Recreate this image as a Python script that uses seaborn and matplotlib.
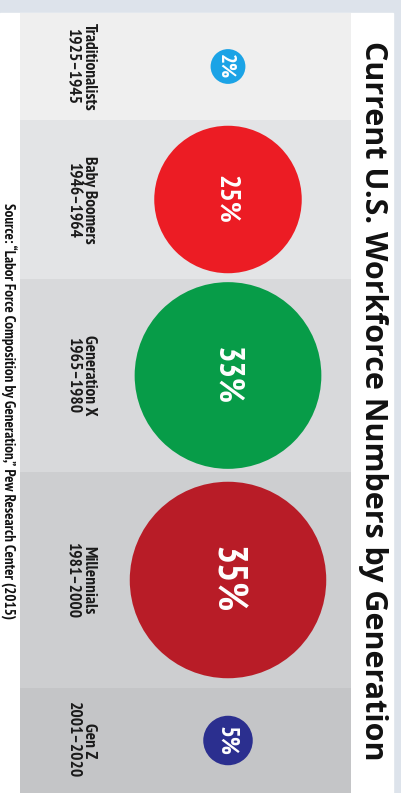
import numpy as np
import pandas as pd
import matplotlib
matplotlib.use("Agg")
import matplotlib.pyplot as plt
from matplotlib.patches import Rectangle
import seaborn as sns

# ---- data ----
GENERATIONS = ["Traditionalists", "Baby Boomers", "Generation X", "Millennials", "Gen Z"]
YEARS = ["1925–1945", "1946–1964", "1965–1980", "1981–2000", "2001–2020"]
SHARES = [2, 25, 33, 35, 5]
TITLE = "Current U.S. Workforce Numbers by Generation"
SOURCE = "Source: \u201cLabor Force Composition by Generation,\u201d Pew Research Center (2015)"

# ---- styles / layout ----
CIRCLE_COLORS = ["#1ba3e6", "#ec1c24", "#079c48", "#b81c27", "#2b2f8f"]
BAND_COLORS = ["#efefef", "#e3e4e6", "#d8d9db", "#cdced0", "#c4c5c7"]
PCT_SIZES = [15, 21, 25, 29, 18]
BAND_EDGES = [13, 120, 279, 472, 688, 793]
W, H = 401, 793
CIRCLE_X = 228
LABEL_FONT = ["PT Sans Narrow", "Archivo Narrow", "DejaVu Sans"]
TITLE_FONT = ["Open Sans", "DejaVu Sans"]

fig = plt.figure(figsize=(W / 100, H / 100), dpi=100)
fig.patch.set_facecolor("#dde3eb")
ax = fig.add_axes([0, 0, 1, 1])

# white panel
ax.add_patch(Rectangle((0, BAND_EDGES[0]), 393, H - BAND_EDGES[0], color="white", zorder=0))
# bands
for i, col in enumerate(BAND_COLORS):
    ax.add_patch(Rectangle((20, BAND_EDGES[i]), 331, BAND_EDGES[i + 1] - BAND_EDGES[i],
                           color=col, zorder=0.5, lw=0))

df = pd.DataFrame({"generation": GENERATIONS, "years": YEARS, "share": SHARES})
df["y"] = [(BAND_EDGES[i] + BAND_EDGES[i + 1]) / 2 for i in range(len(df))]
df["x"] = CIRCLE_X

# radius (px) grows with share; scatter size is area in points^2
radius = {v: 12.5 + 2.45 * v for v in SHARES}
sizes = {v: (1.44 * r) ** 2 for v, r in radius.items()}

sns.scatterplot(data=df, x="x", y="y", hue="generation", size="share",
                palette=dict(zip(GENERATIONS, CIRCLE_COLORS)), sizes=sizes,
                linewidth=0, legend=False, ax=ax, zorder=2)
ax.set_xlim(0, W)
ax.set_ylim(H, 0)
ax.axis("off")

for i, row in df.iterrows():
    ax.text(row["x"] - 2, row["y"], f"{row['share']}%", rotation=-90, rotation_mode="anchor",
            ha="center", va="center", color="white", fontsize=PCT_SIZES[i],
            fontweight="bold", family=LABEL_FONT, zorder=3)
    ax.text(81, row["y"], f"{row['generation']}\n{row['years']}", rotation=-90,
            rotation_mode="anchor", ha="center", va="center", multialignment="center",
            color="#1a1a1a", fontsize=12.5, fontweight="bold", family=LABEL_FONT,
            linespacing=0.95, zorder=3)

ax.text(373, (BAND_EDGES[0] + H) / 2 - 2, TITLE, rotation=-90, rotation_mode="anchor",
        ha="center", va="center", color="#111111", fontsize=22, fontweight="bold",
        family=TITLE_FONT)
ax.text(8.5, 203, SOURCE, rotation=-90, rotation_mode="anchor", ha="left", va="center",
        color="#111111", fontsize=10.8, fontweight="bold", family=LABEL_FONT)

fig.savefig("out.png", dpi=100, facecolor=fig.get_facecolor())
